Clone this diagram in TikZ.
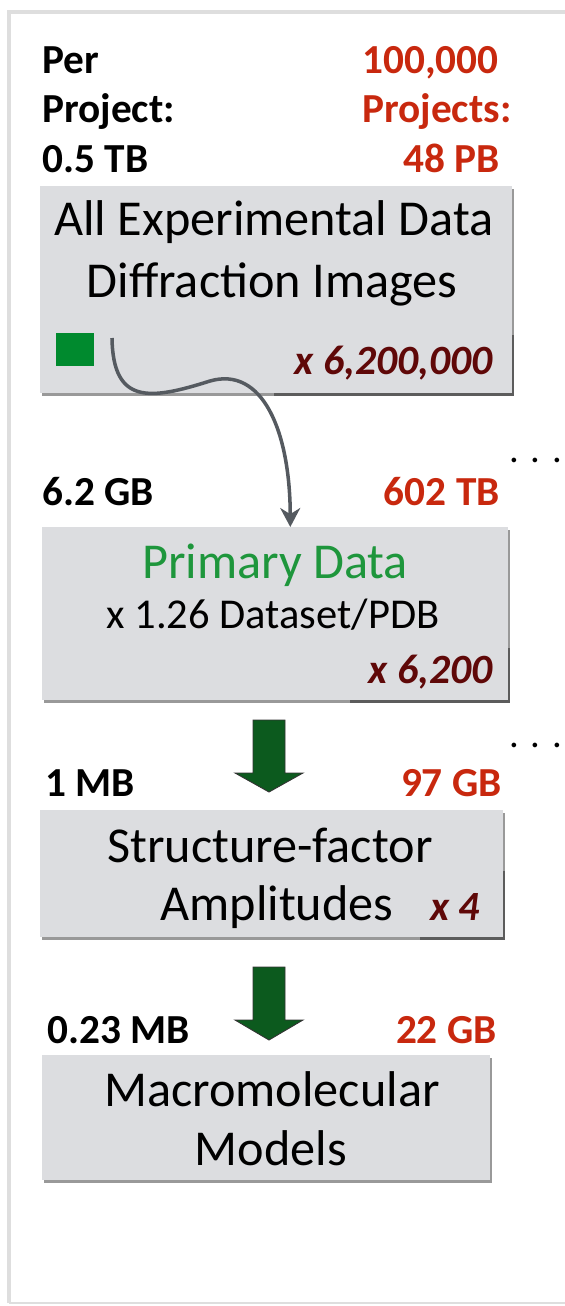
\documentclass[tikz,border=0pt]{standalone}
\usepackage{fontspec}
\setmainfont{Carlito}
\usepackage{xcolor}
\usetikzlibrary{arrows.meta,shadows}
\definecolor{boxgray}{RGB}{220,221,224}
\definecolor{sizered}{RGB}{200,40,14}
\definecolor{multred}{RGB}{95,8,8}
\definecolor{primgreen}{RGB}{30,150,60}
\definecolor{squaregreen}{RGB}{0,138,46}
\definecolor{arrowgreen}{RGB}{12,90,30}
\definecolor{curvegray}{RGB}{85,90,96}
\definecolor{framegray}{RGB}{222,222,222}
\tikzset{
  sizelabel/.style={font=\fontsize{23.5}{28}\selectfont\bfseries, inner sep=0pt},
  totallabel/.style={sizelabel, text=sizered},
  databox/.style={fill=boxgray, inner sep=0pt, anchor=north west,
    drop shadow={shadow xshift=0.04cm, shadow yshift=-0.06cm, fill=black, opacity=0.4}},
  boxtext/.style={font=\fontsize{28.6}{34}\selectfont, inner sep=0pt, anchor=base},
  multtext/.style={font=\fontsize{23.7}{28}\selectfont\bfseries\itshape, text=multred, inner sep=0pt, anchor=base east},
  dotslabel/.style={font=\fontsize{22}{26}\selectfont, inner sep=0pt, anchor=base west},
  blockarrow/.style={fill=arrowgreen, draw=black!80, line width=0.5pt},
}
\begin{document}
\begin{tikzpicture}[x=0.02cm,y=-0.02cm]
\useasboundingbox (0,0) rectangle (565,1306);
\draw [framegray, line width=2pt] (9,1303) -- (9,12) -- (565,12);% frame of the slide
\draw [framegray, line width=1.5pt] (9,1303) -- (565,1303);
% left column: per project, right column: 100,000 projects
\node[sizelabel, anchor=base west] (per) at (42,73) {Per};
\node[sizelabel, anchor=base west] (project) at (42,122) {Project:};
\node[sizelabel, anchor=base west] (rawsize) at (42,172) {0.5 TB};
\node[totallabel, anchor=base west] (count) at (362,73) {100,000};
\node[totallabel, anchor=base west] (projects) at (362,122) {Projects:};
\node[totallabel, anchor=base east] (rawtotal) at (500,172) {48 PB};
% diffraction images
\node[databox, minimum width=9.44cm, minimum height=4.14cm] (raw) at (40,186) {};
\node[databox, minimum width=4.8cm, minimum height=1.22cm] (rawmult) at (272,332) {};
\node[boxtext] (rawA) at (274,235) {All Experimental Data};
\node[boxtext] (rawB) at (272,297) {Diffraction Images};
\node[multtext] (rawx) at (493,374) {x 6,200,000};
\node[fill=squaregreen, minimum width=0.76cm, minimum height=0.66cm, inner sep=0pt, anchor=north west] (square) at (56,333) {};
% primary data
\node[sizelabel, anchor=base west] (primsize) at (42,505) {6.2 GB};
\node[totallabel, anchor=base east] (primtotal) at (500,505) {602 TB};
\node[dotslabel] (dotsA) at (509,462) {. . .};
\node[databox, minimum width=9.32cm, minimum height=3.46cm] (prim) at (42,527) {};
\node[databox, minimum width=3.2cm, minimum height=1.1cm] (primmult) at (348,645) {};
\node[boxtext, text=primgreen] (primA) at (275,578) {Primary Data};
\node[boxtext, font=\fontsize{24.2}{28}\selectfont] (primB) at (273,628) {x 1.26 Dataset/PDB};
\node[multtext] (primx) at (493,683) {x 6,200};
\coordinate (curvestart) at (112,338);
\draw [curvegray, line width=2pt, -{Stealth[length=0.38cm,width=0.4cm]}] (curvestart) .. controls (113,405) and (150,400) .. (210,381) .. controls (262,366) and (290,430) .. ([xshift=0.3cm]prim.north);
% structure factors
\filldraw [blockarrow] (253,720) -- (285,720) -- (285,773) -- (303,773) -- (269,792) -- (235,773) -- (253,773) -- cycle;
\node[dotslabel] (dotsB) at (509,747) {. . .};
\node[sizelabel, anchor=base west] (sfsize) at (45,796) {1 MB};
\node[totallabel, anchor=base east] (sftotal) at (502,796) {97 GB};
\node[databox, minimum width=9.26cm, minimum height=2.54cm] (sf) at (40,810) {};
\node[databox, minimum width=1.7cm, minimum height=1.38cm] (sfmult) at (418,868) {};
\node[boxtext] (sfA) at (270,862) {Structure-factor};
\node[boxtext] (sfB) at (277,920) {Amplitudes};
\node[multtext] (sfx) at (480,920) {x 4};
% models
\filldraw [blockarrow] (253,967) -- (285,967) -- (285,1020) -- (303,1020) -- (269,1040) -- (235,1020) -- (253,1020) -- cycle;
\node[sizelabel, anchor=base west] (modsize) at (47,1043) {0.23 MB};
\node[totallabel, anchor=base east] (modtotal) at (497,1043) {22 GB};
\node[databox, minimum width=8.96cm, minimum height=2.5cm] (mod) at (42,1055) {};
\node[boxtext] (modA) at (272,1106) {Macromolecular};
\node[boxtext] (modB) at (271,1165) {Models};
\end{tikzpicture}
\end{document}
